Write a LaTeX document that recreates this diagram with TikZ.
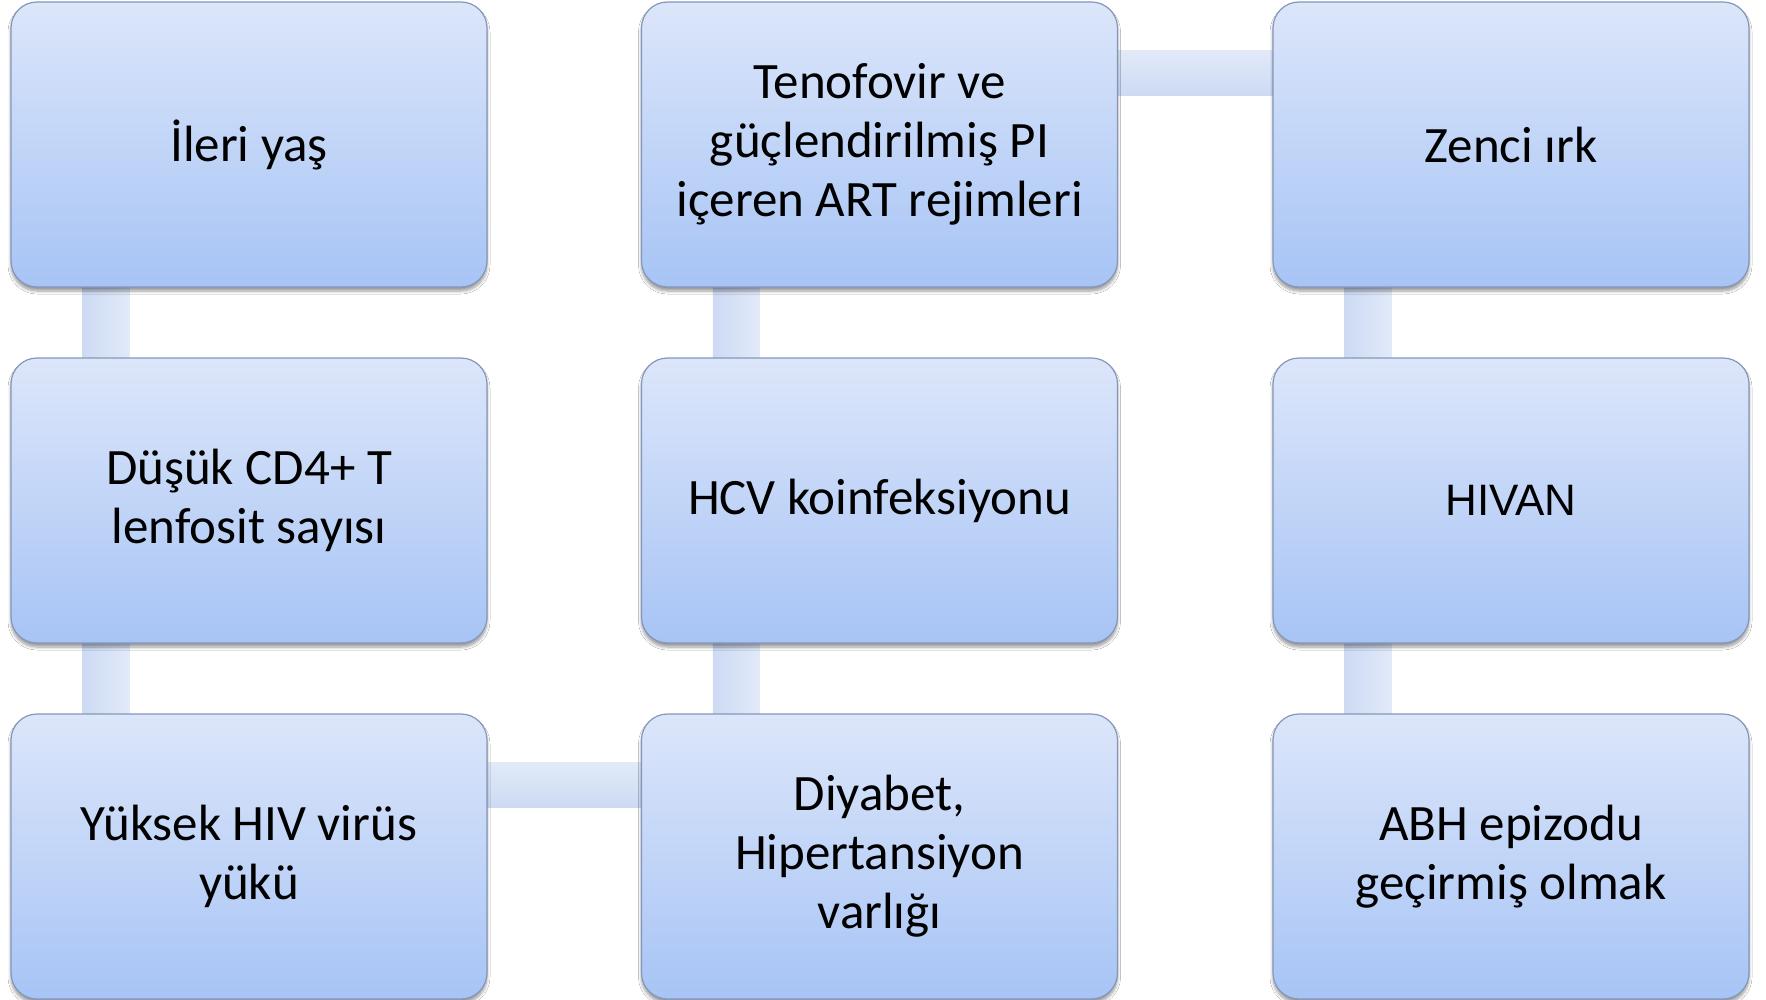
\documentclass[tikz,border=0pt]{standalone}
\usepackage{fontspec}
\setmainfont{Carlito}
\newfontfamily\arialf{Liberation Sans}
\usetikzlibrary{shadows.blur,backgrounds}
\definecolor{boxtop}{HTML}{DCE6FA}
\definecolor{boxbot}{HTML}{A7C4F5}
\definecolor{boxline}{HTML}{8497BA}
\definecolor{barA}{HTML}{CCDAF3}
\definecolor{barB}{HTML}{E2EAF9}
\tikzset{
  stepbox/.style={rectangle, rounded corners=26pt, minimum width=476pt, minimum height=285pt,
    top color=boxtop, bottom color=boxbot, draw=boxline, line width=1.2pt,
    align=center, inner sep=0pt, font=\fontsize{51}{59}\selectfont,
    blur shadow={shadow xshift=0pt, shadow yshift=-4pt, shadow blur radius=3pt, shadow blur steps=6, shadow opacity=40}},
  vbar/.style={left color=barA, right color=barB},
  hbar/.style={top color=barB, bottom color=barA},
}
\begin{document}
\begin{tikzpicture}[x=1pt,y=-1pt]
\useasboundingbox (0,0) rectangle (1766,1000);
% column 1
\node[stepbox] (a1) at (249,144.5) {İleri yaş};
\node[stepbox] (a2) at (249,500.5) {Düşük CD4+ T\\lenfosit sayısı};
\node[stepbox] (a3) at (249,856.5) {Yüksek HIV virüs\\yükü};
% column 2
\node[stepbox] (b1) at (879.5,144.5) {Tenofovir ve\\güçlendirilmiş PI\\içeren ART rejimleri};
\node[stepbox] (b2) at (879.5,500.5) {HCV koinfeksiyonu};
\node[stepbox] (b3) at (879.5,856.5) {Diyabet,\\Hipertansiyon\\varlığı};
% column 3
\node[stepbox] (c1) at (1511,144.5) {Zenci ırk};
\node[stepbox, font=\arialf\fontsize{44}{52}\selectfont] (c2) at (1511,500.5) {HIVAN};
\node[stepbox] (c3) at (1511,856.5) {ABH epizodu\\geçirmiş olmak};
\begin{scope}[on background layer]
\fill[white] (0,0) rectangle (1766,1000);
\shade[vbar] ([xshift=72pt]a1.south west) rectangle ([xshift=119pt]a2.north west);
\shade[vbar] ([xshift=72pt]a2.south west) rectangle ([xshift=119pt]a3.north west);
\shade[hbar] ([yshift=-49pt]a3.north east) rectangle ([yshift=-94pt]b3.north west);
\shade[vbar] ([xshift=72pt]b3.north west) rectangle ([xshift=119pt]b2.south west);
\shade[vbar] ([xshift=72pt]b2.north west) rectangle ([xshift=119pt]b1.south west);
\shade[hbar] ([yshift=-49pt]b1.north east) rectangle ([yshift=-94pt]c1.north west);
\shade[vbar] ([xshift=72pt]c1.south west) rectangle ([xshift=119pt]c2.north west);
\shade[vbar] ([xshift=72pt]c2.south west) rectangle ([xshift=119pt]c3.north west);
\end{scope}
\end{tikzpicture}
\end{document}
